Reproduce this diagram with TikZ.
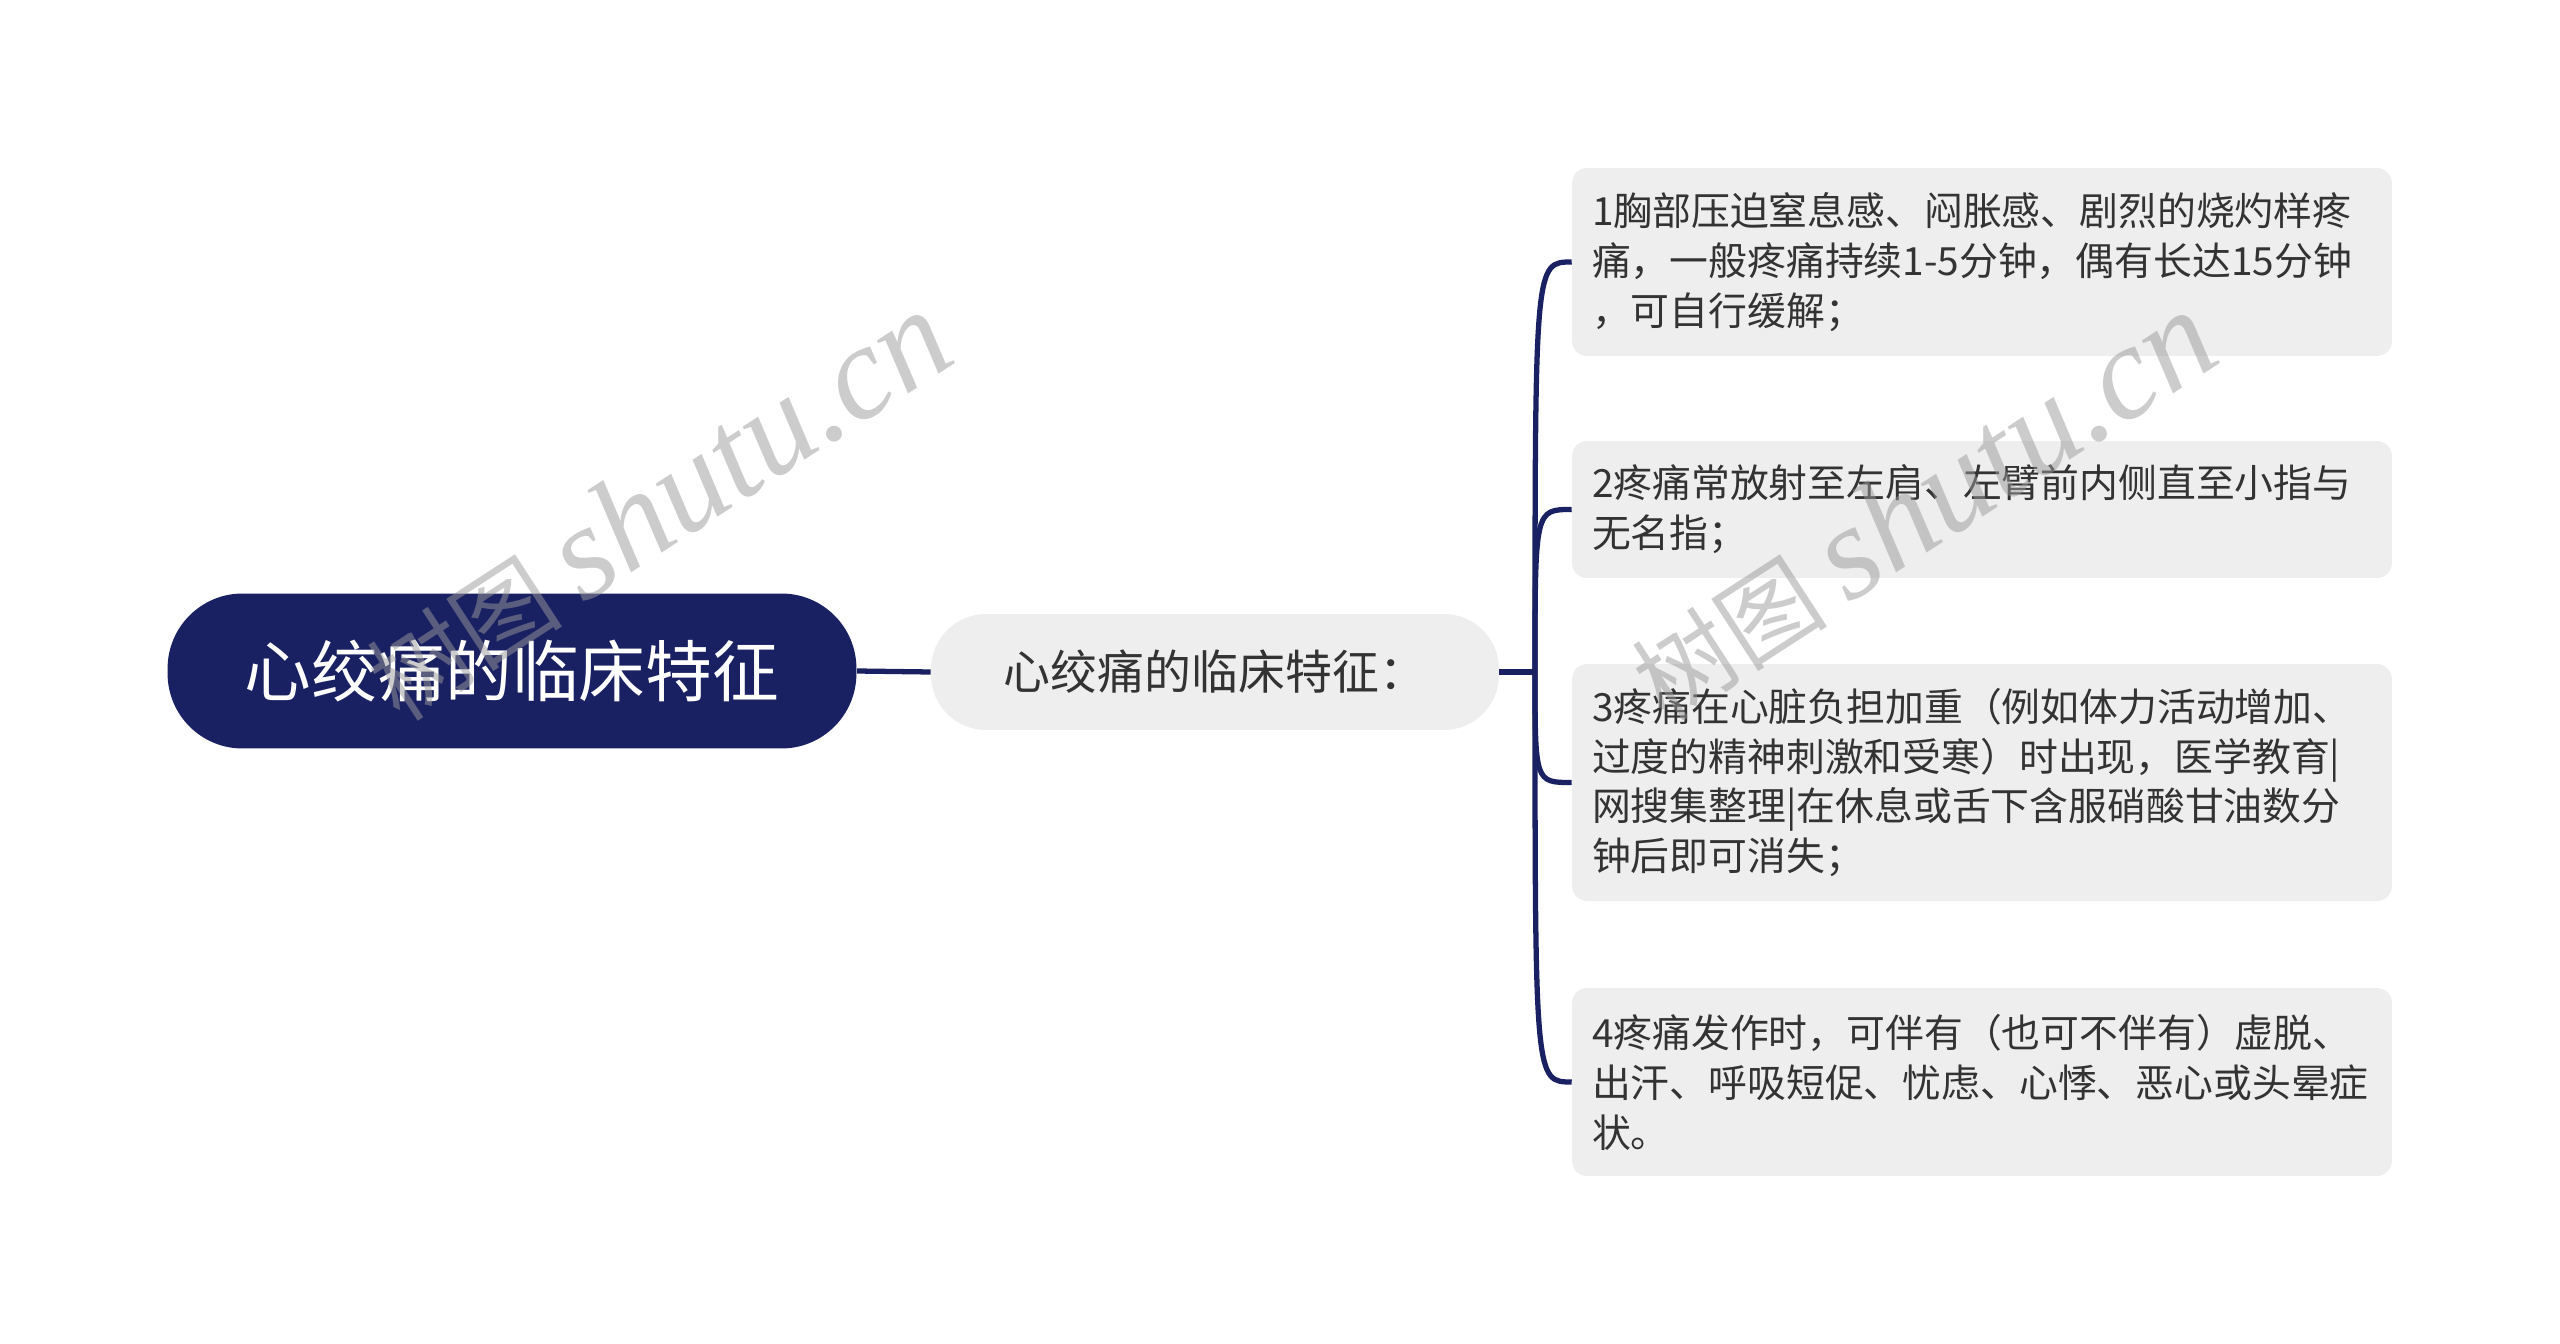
\documentclass[tikz,border=0pt]{standalone}
\usepackage{fontspec}
\setmainfont{Noto Sans CJK SC}
\newfontfamily\wmfont{Liberation Serif}
\usepackage{tikz}
\usetikzlibrary{positioning}
\definecolor{navy}{HTML}{1A2163}
\definecolor{boxgray}{HTML}{EEEEEE}
\definecolor{textgray}{HTML}{333333}
\definecolor{wmgray}{HTML}{9A9A9A}

\begin{document}
\begin{tikzpicture}[x=0.02cm, y=-0.02cm,
	link/.style={draw=navy, line width=3pt},
	rootbox/.style={fill=navy, text=white, rounded corners=1.5cm, minimum width=13.78cm, minimum height=3.1cm, inner sep=0pt, font=\fontsize{38}{40}\selectfont},
	topicbox/.style={fill=boxgray, text=textgray, rounded corners=1.1cm, minimum width=11.36cm, minimum height=2.32cm, inner sep=0pt, font=\fontsize{26.7}{30}\selectfont},
	itembox/.style={fill=boxgray, text=textgray, rounded corners=0.3cm, text width=15.6cm, inner xsep=0.4cm, inner ysep=0pt, align=left, font=\fontsize{22.1}{28.45}\selectfont},
	wmark/.style={text=wmgray, text opacity=0.5, rotate=33, font=\fontsize{56}{56}\selectfont}]
	\useasboundingbox (0,0) rectangle (2560,1344);
	\fill[white] (0,0) rectangle (2560,1344);
	\node[rootbox] (root) at (512,671) {心绞痛的临床特征};
	\node[topicbox] (topic) at (1215,672) {心绞痛的临床特征：};
	\node[itembox, minimum height=3.76cm] (item1) at (1982,262) {1胸部压迫窒息感、闷胀感、剧烈的烧灼样疼\\痛，一般疼痛持续1-5分钟，偶有长达15分钟\\，可自行缓解；};
	\node[itembox, minimum height=2.74cm] (item2) at (1982,509.5) {2疼痛常放射至左肩、左臂前内侧直至小指与\\无名指；};
	\node[itembox, minimum height=4.74cm] (item3) at (1982,782.5) {3疼痛在心脏负担加重（例如体力活动增加、\\过度的精神刺激和受寒）时出现，医学教育|\\网搜集整理|在休息或舌下含服硝酸甘油数分\\钟后即可消失；};
	\node[itembox, minimum height=3.76cm] (item4) at (1982,1082) {4疼痛发作时，可伴有（也可不伴有）虚脱、\\出汗、呼吸短促、忧虑、心悸、恶心或头晕症\\状。};
	\coordinate (fork) at (1535,672);
	\draw[link] (root.east) -- (topic.west);
	\draw[link] (topic.east) -- (fork);
	\foreach \i in {1,...,4}
		\draw[link] (fork) .. controls (fork |- item\i.west) .. (item\i.west);
	\foreach \wx/\wy in {657/506, 1922/506}
		\node[wmark] (wm) at (\wx,\wy) {树图 {\wmfont\itshape\fontsize{76}{76}\selectfont shutu.cn}};
\end{tikzpicture}
\end{document}
